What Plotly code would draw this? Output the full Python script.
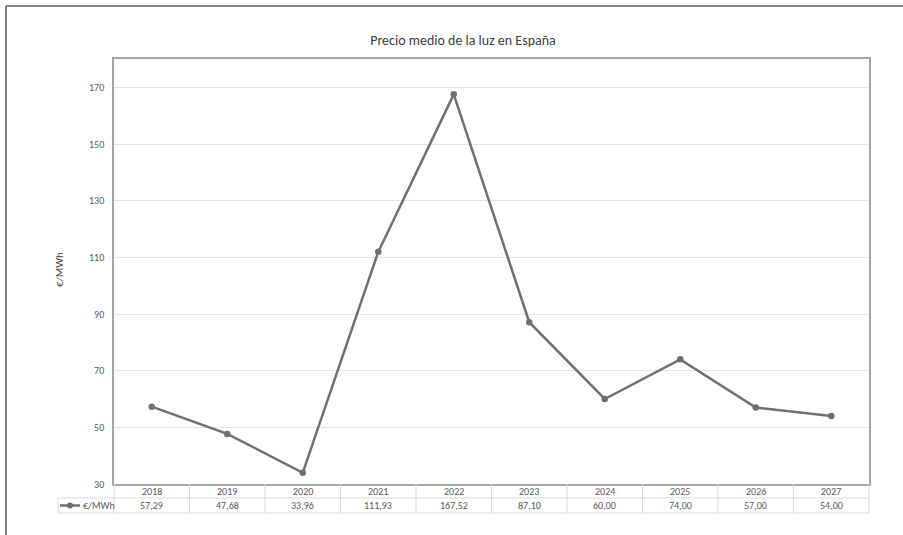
import plotly.graph_objects as go

years = ["2018", "2019", "2020", "2021", "2022", "2023", "2024", "2025", "2026", "2027"]
prices = [57.29, 47.68, 33.96, 111.93, 167.52, 87.10, 60.00, 74.00, 57.00, 54.00]
series_name = "€/MWh"
title_text = "Precio medio de la luz en España"
y_ticks = [30, 50, 70, 90, 110, 130, 150, 170]

W, H = 903, 535
L, R, T, B = 114, 34, 59, 51
PW, PH = W - L - R, H - T - B

def px_x(p):
    return (p - L) / PW

def px_y(p):
    return (H - B - p) / PH

FONT = "Carlito, Liberation Sans Narrow, Noto Sans, sans-serif"
LINE_COL = "#707070"
GRID_COL = "#e4e4e4"
AXIS_COL = "#a6a6a6"
TAB_COL = "#d9d9d9"
TXT_COL = "#595959"

fig = go.Figure()
fig.add_trace(go.Scatter(
    x=years, y=prices, mode="lines+markers", name=series_name,
    line=dict(color=LINE_COL, width=2.5),
    marker=dict(color=LINE_COL, size=6.5),
    showlegend=False, hoverinfo="x+y",
))

shapes = []
annotations = []

# outer chart border (top and left)
shapes.append(dict(type="line", xref="paper", yref="paper",
                   x0=px_x(6), x1=px_x(910), y0=px_y(6), y1=px_y(6),
                   line=dict(color="#595959", width=1.5)))
shapes.append(dict(type="line", xref="paper", yref="paper",
                   x0=px_x(6), x1=px_x(6), y0=px_y(6), y1=px_y(540),
                   line=dict(color="#595959", width=1.5)))

row_mid = 498
row_bot = 513
# table horizontal lines
shapes.append(dict(type="line", xref="paper", yref="paper",
                   x0=px_x(58), x1=1, y0=px_y(row_mid), y1=px_y(row_mid),
                   line=dict(color=TAB_COL, width=1)))
shapes.append(dict(type="line", xref="paper", yref="paper",
                   x0=px_x(58), x1=1, y0=px_y(row_bot), y1=px_y(row_bot),
                   line=dict(color=TAB_COL, width=1)))
# table vertical lines
for i in range(len(years) - 1):
    shapes.append(dict(type="line", xref="x", yref="paper",
                       x0=i + 0.5, x1=i + 0.5, y0=0, y1=px_y(row_bot),
                       line=dict(color=TAB_COL, width=1)))
for xp in (0, 1):
    shapes.append(dict(type="line", xref="paper", yref="paper",
                       x0=xp, x1=xp, y0=0, y1=px_y(row_bot),
                       line=dict(color=TAB_COL, width=1)))
shapes.append(dict(type="line", xref="paper", yref="paper",
                   x0=px_x(58), x1=px_x(58), y0=px_y(row_mid), y1=px_y(row_bot),
                   line=dict(color=TAB_COL, width=1)))

# legend key
key_y = px_y(505.5)
shapes.append(dict(type="line", xref="paper", yref="paper",
                   x0=px_x(60), x1=px_x(80), y0=key_y, y1=key_y,
                   line=dict(color=LINE_COL, width=2.5)))
shapes.append(dict(type="circle", xref="paper", yref="paper",
                   x0=px_x(67), x1=px_x(73), y0=px_y(508.5), y1=px_y(502.5),
                   fillcolor=LINE_COL, line=dict(color=LINE_COL, width=0)))
annotations.append(dict(xref="paper", yref="paper", x=px_x(81), y=key_y,
                        text=series_name, showarrow=False, xanchor="left",
                        yanchor="middle", font=dict(family=FONT, size=10, color=TXT_COL)))

for i, (yr, v) in enumerate(zip(years, prices)):
    annotations.append(dict(xref="x", yref="paper", x=i, y=px_y(491.5),
                            text=yr, showarrow=False, yanchor="middle",
                            font=dict(family=FONT, size=10, color=TXT_COL)))
    annotations.append(dict(xref="x", yref="paper", x=i, y=key_y,
                            text=f"{v:.2f}".replace(".", ","), showarrow=False,
                            yanchor="middle",
                            font=dict(family=FONT, size=10, color=TXT_COL)))

# y axis title
annotations.append(dict(xref="paper", yref="paper", x=px_x(59), y=px_y(270),
                        text=series_name, showarrow=False, textangle=-90,
                        xanchor="center", yanchor="middle",
                        font=dict(family=FONT, size=11, color="#404040")))

fig.update_layout(
    width=W, height=H,
    margin=dict(l=L, r=R, t=T, b=B),
    paper_bgcolor="white", plot_bgcolor="white",
    title=dict(text=title_text, xref="container", x=463 / W, xanchor="center",
               y=1 - 40 / H, yanchor="middle",
               font=dict(family=FONT, size=14, color="#404040")),
    shapes=shapes, annotations=annotations,
    xaxis=dict(type="category", range=[-0.5, len(years) - 0.5],
               showticklabels=False, showgrid=False, zeroline=False,
               showline=True, linecolor=AXIS_COL, linewidth=1.5, mirror=True,
               ticks=""),
    yaxis=dict(range=[30, 180], tickvals=y_ticks, showgrid=True,
               gridcolor=GRID_COL, gridwidth=1, zeroline=False,
               showline=True, linecolor=AXIS_COL, linewidth=1.5, mirror=True,
               ticks="", ticklabelstandoff=6,
               tickfont=dict(family=FONT, size=10, color=TXT_COL)),
)

fig.write_html("out.html")
